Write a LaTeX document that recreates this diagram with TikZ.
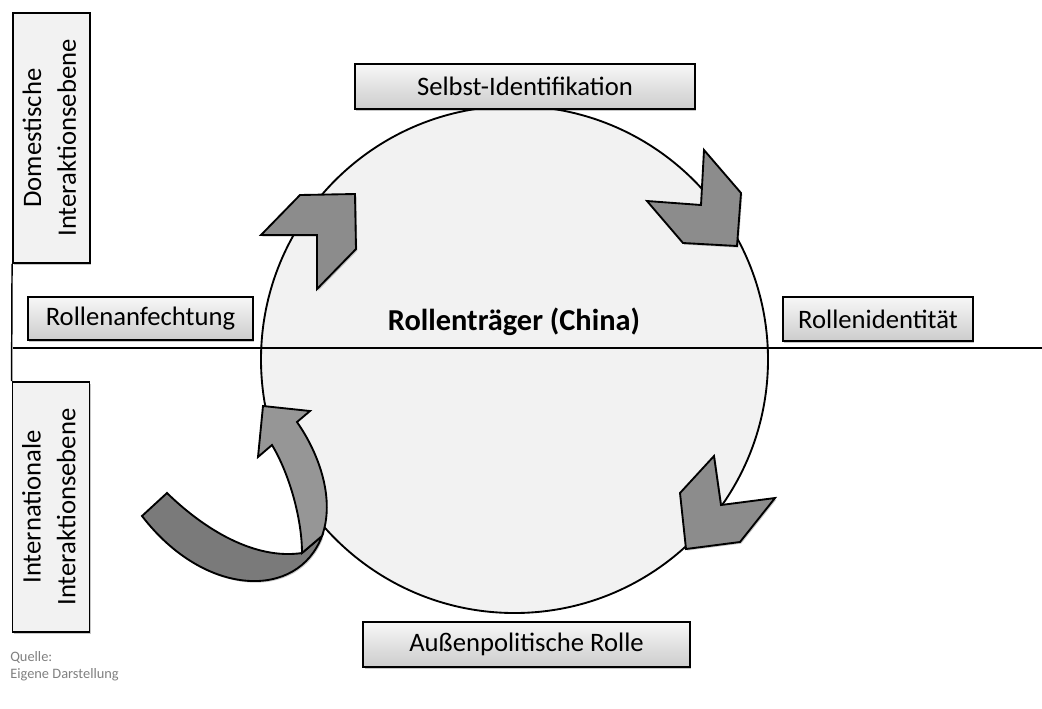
\documentclass[tikz,border=0pt]{standalone}
\usepackage{fontspec}
\setmainfont{Carlito}
\usetikzlibrary{shadows}

\definecolor{paneFill}{HTML}{F2F2F2}
\definecolor{arrowFill}{HTML}{8C8C8C}
\definecolor{ribbonDark}{HTML}{7A7A7A}
\definecolor{ribbonLight}{HTML}{969696}
\definecolor{noteGray}{HTML}{808080}

\tikzset{
  softshadow/.style={drop shadow={shadow xshift=1pt, shadow yshift=-1.2pt, opacity=0.22, fill=black}},
  labelbox/.style={draw=black, line width=1.4pt, top color=white!97!black,
    bottom color=white!80!black, inner sep=0pt, softshadow,
    font=\fontsize{20}{24}\selectfont},
  levelbox/.style={draw=black, line width=1.4pt, fill=paneFill, inner sep=0pt,
    minimum width=57.75pt, minimum height=187.5pt, softshadow,
    font=\fontsize{20}{26}\selectfont},
  chevron/.style={draw=black, line width=1.4pt, fill=arrowFill, line join=miter, softshadow},
  ribbon/.style={draw=black, line width=1.4pt, line join=miter},
  axisline/.style={draw=black, line width=1.1pt},
}

\begin{document}
\begin{tikzpicture}[x=0.75pt, y=-0.75pt]
  \useasboundingbox (0,0) rectangle (1042,708);

  % central role carrier
  \node[circle, draw=black, line width=1.4pt, fill=paneFill, minimum size=380.25pt,
        inner sep=0pt] (carrier) at (514.5,359.5) {};
  \node[font=\bfseries\fontsize{22.8}{27}\selectfont] (carrierlabel) at (514,322) {Rollenträger (China)};

  % interaction levels
  \node[levelbox] (domestic) at (51.5,138)
    {\rotatebox{90}{\begin{tabular}{@{}c@{}}Domestische\\Interaktionsebene\end{tabular}}};
  \node[levelbox] (international) at (51,507)
    {\rotatebox{90}{\begin{tabular}{@{}c@{}}Internationale\\Interaktionsebene\end{tabular}}};

  \coordinate (axisleft) at (13,348);
  \coordinate (axisright) at (1042,348);
  \draw[axisline] (domestic.south west) -- (international.north west);
  \draw[axisline] (axisleft) -- (axisright);

  % stages of the role cycle
  \node[labelbox, minimum width=255pt, minimum height=33.75pt] (selfid) at (525,86.5) {Selbst-Identifikation};
  \node[labelbox, minimum width=168.75pt, minimum height=32.25pt] (contest) at (140.5,318.5) {Rollenanfechtung};
  \node[labelbox, minimum width=142.5pt, minimum height=33pt] (identity) at (878,319) {Rollenidentität};
  \node[labelbox, minimum width=245pt, minimum height=33.75pt] (foreign) at (526.5,644.5) {Außenpolitische Rolle};

  % chevron arrows along the circle
  \path[chevron] (300,195) -- (355,194) -- (356,249) -- (317,289) -- (317,235) -- (261,235) -- cycle;
  \path[chevron] (704,150) -- (741,193) -- (737,246) -- (683,243) -- (647,201) -- (701,205) -- cycle;
  \path[chevron] (714,456) -- (721,505) -- (775,498) -- (740,542) -- (686,549) -- (680,493) -- cycle;

  % curved feedback ribbon
  \path[ribbon, fill=ribbonDark, softshadow] (142,516) -- (167,493)
    .. controls (205,530) and (255,560) .. (302,553)
    -- (322,536)
    .. controls (298,600) and (205,598) .. (142,516) -- cycle;
  \path[ribbon, fill=ribbonLight] (302,553)
    .. controls (302,520) and (290,475) .. (272,445)
    -- (258,457) -- (263,406) -- (310,411) -- (297,422)
    .. controls (320,455) and (335,500) .. (322,536) -- cycle;

  % source note
  \node[anchor=west, text=noteGray, font=\fontsize{10.8}{13}\selectfont, align=left, inner sep=0pt]
    (source) at (10,666) {Quelle:\\Eigene Darstellung};
\end{tikzpicture}
\end{document}
